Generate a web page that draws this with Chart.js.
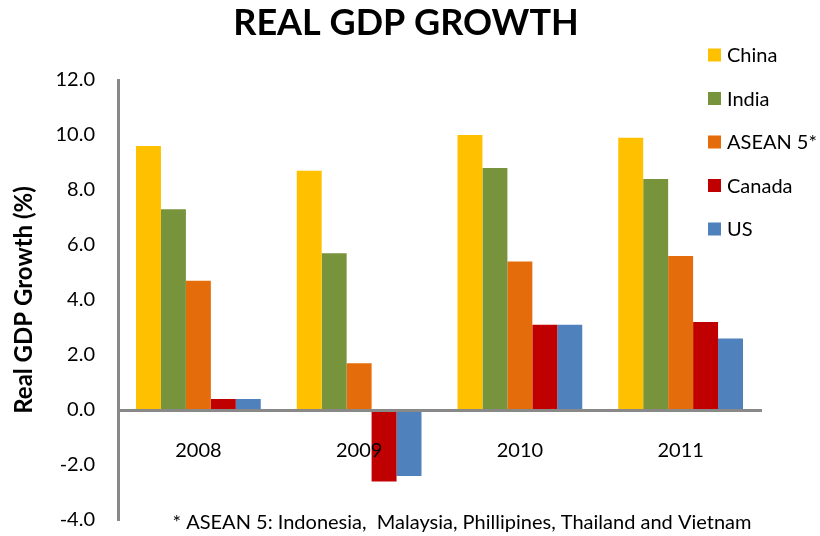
<!DOCTYPE html>
<html>
<head>
<meta charset="utf-8">
<script src="https://cdn.jsdelivr.net/npm/chart.js@4"></script>
<style>
  html, body { margin: 0; padding: 0; background: #fff; }
  .chart-container { position: relative; width: 820px; height: 536px; }
</style>
</head>
<body>
<div class="chart-container">
  <canvas id="gdp" width="820" height="536"></canvas>
</div>
<script>
const years = ['2008', '2009', '2010', '2011'];
const seriesNames = ['China', 'India', 'ASEAN 5*', 'Canada', 'US'];
const china = [9.6, 8.7, 10.0, 9.9];
const india = [7.3, 5.7, 8.8, 8.4];
const asean5 = [4.7, 1.7, 5.4, 5.6];
const canada = [0.4, -2.6, 3.1, 3.2];
const us = [0.4, -2.4, 3.1, 2.6];
const yTicks = [-4, -2, 0, 2, 4, 6, 8, 10, 12];
const titleText = 'REAL GDP GROWTH';
const footnote = '* ASEAN 5: Indonesia,  Malaysia, Phillipines, Thailand and Vietnam';

const colors = ['#FFC000', '#77933C', '#E46C0A', '#C00000', '#4F81BD'];
const FONT = 'Lato, "Open Sans", sans-serif';

// title, legend and footnote drawn by hand so they can sit where the original has them
const extras = {
  id: 'extras',
  afterDraw(chart) {
    const ctx = chart.ctx;
    ctx.save();
    ctx.fillStyle = '#000';
    ctx.textAlign = 'center';
    ctx.textBaseline = 'middle';
    ctx.font = 'bold 36px ' + FONT;
    ctx.fillText(titleText, 406, 23);

    ctx.font = '20px ' + FONT;
    ctx.textAlign = 'left';
    chart.data.datasets.forEach((ds, i) => {
      const y = 55 + i * 43.5;
      ctx.fillStyle = ds.backgroundColor;
      ctx.fillRect(708, y - 6.5, 13, 13);
      ctx.fillStyle = '#000';
      ctx.fillText(ds.label, 727, y + 1);
    });

    ctx.font = '20px ' + FONT;
    ctx.textAlign = 'center';
    ctx.fillText(footnote, 462, 523);
    ctx.restore();
  }
};

const datasets = [china, india, asean5, canada, us].map((vals, i) => ({
  label: seriesNames[i],
  data: vals,
  backgroundColor: colors[i],
  borderWidth: 0,
  categoryPercentage: 0.776,
  barPercentage: 1.0
}));

new Chart(document.getElementById('gdp').getContext('2d'), {
  type: 'bar',
  data: { labels: years, datasets: datasets },
  options: {
    responsive: false,
    animation: false,
    layout: { padding: { left: 0, right: 59, top: 80, bottom: 16 } },
    plugins: {
      legend: { display: false },
      title: { display: false },
      tooltip: { enabled: false }
    },
    scales: {
      x: {
        position: { y: 0 },
        grid: { display: false },
        border: { display: true, color: '#898989', width: 3, z: 1 },
        ticks: { color: '#000', font: { family: FONT, size: 20 }, padding: 21, z: 1 }
      },
      y: {
        min: yTicks[0],
        max: yTicks[yTicks.length - 1],
        afterBuildTicks(scale) {
          scale.ticks = yTicks.map(v => ({ value: v }));
        },
        afterFit(scale) {
          // fixed axis width, and let the layout padding alone set the plot height
          scale.width = 118;
          scale.paddingTop = 0;
          scale.paddingBottom = 0;
        },
        grid: { display: false },
        border: { display: true, color: '#898989', width: 3 },
        ticks: {
          color: '#000',
          font: { family: FONT, size: 20 },
          padding: 15,
          callback: v => Number(v).toFixed(1)
        },
        title: {
          display: true,
          text: 'Real GDP Growth (%)',
          color: '#000',
          font: { family: FONT, size: 24, weight: 'bold' },
          padding: { top: 10, bottom: 0 }
        }
      }
    }
  },
  plugins: [extras]
});
</script>
</body>
</html>
